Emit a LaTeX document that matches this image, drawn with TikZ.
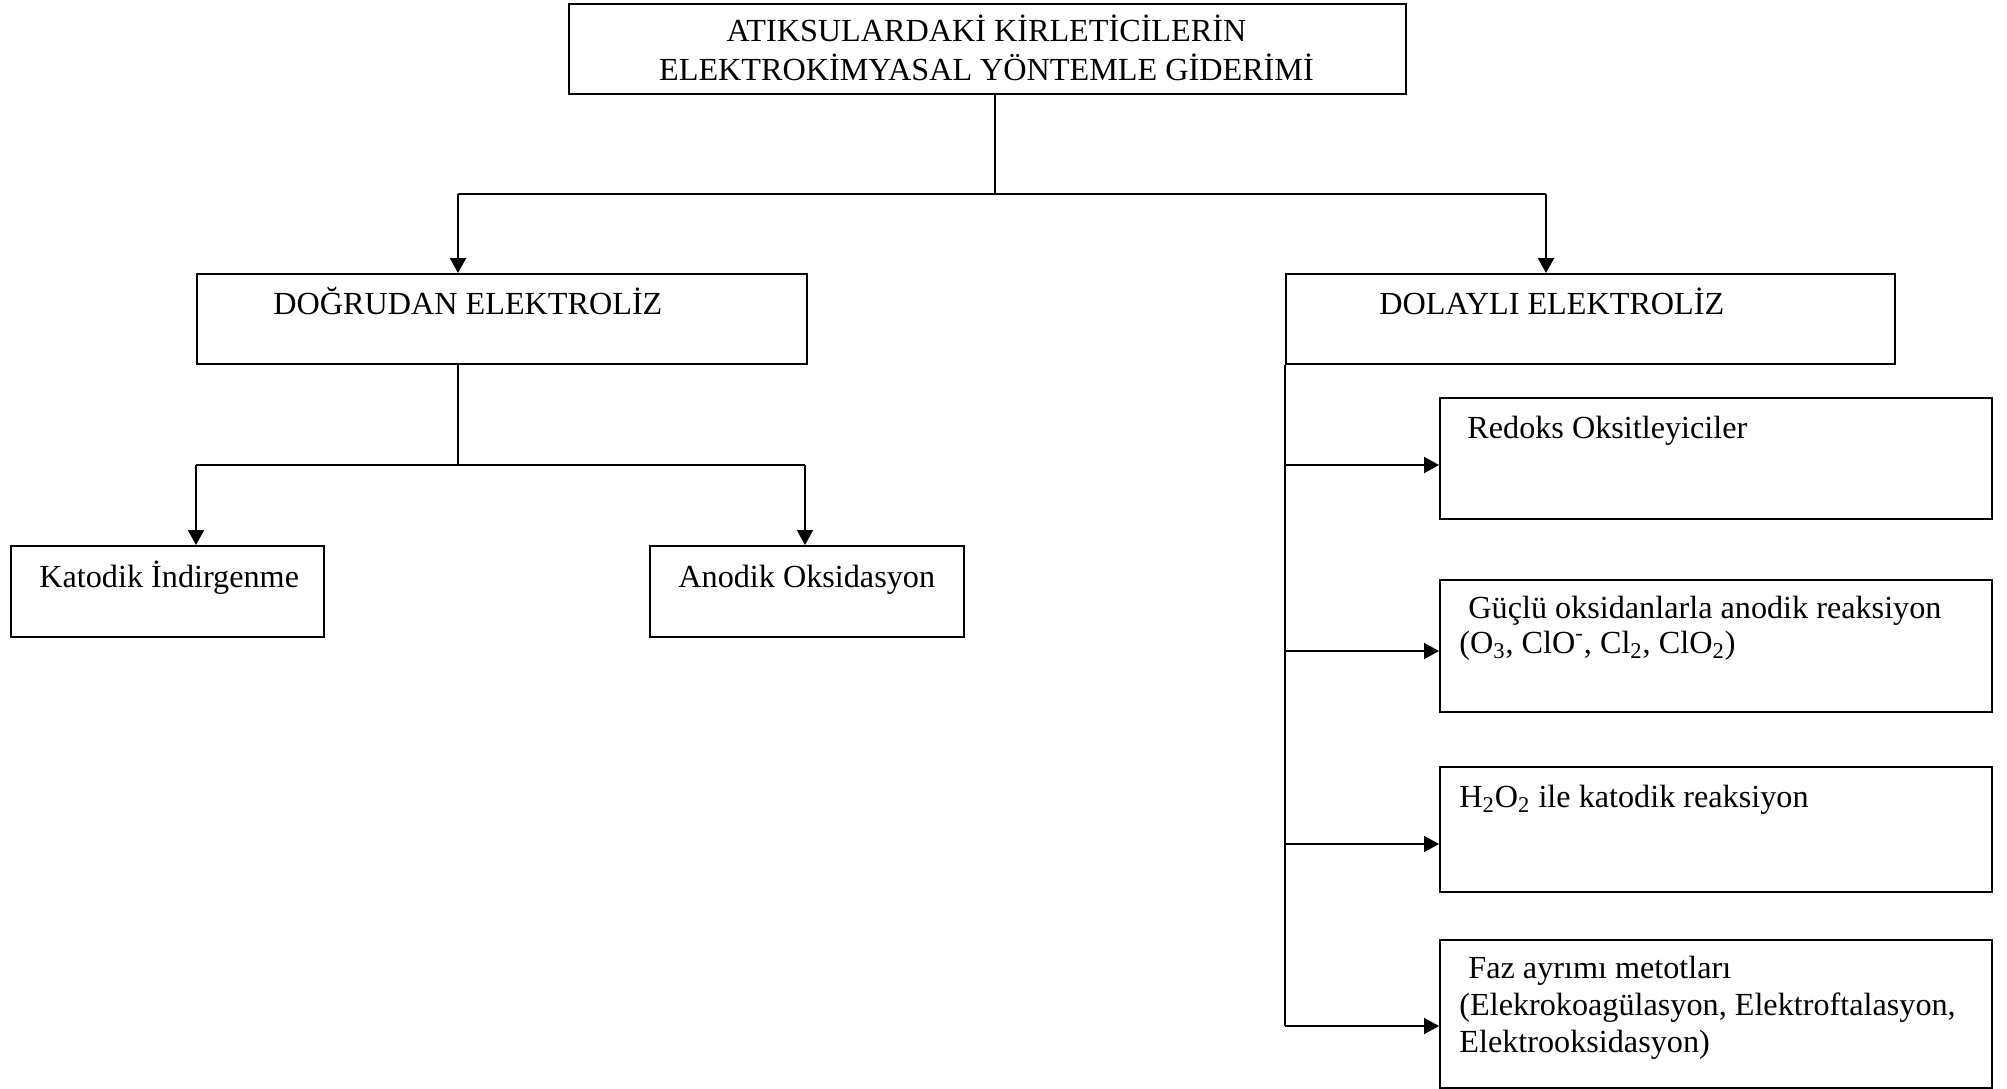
\documentclass[tikz,border=0pt]{standalone}
\usepackage{fontspec}
\setmainfont{Liberation Serif}
\usetikzlibrary{arrows.meta}
\begin{document}
\begin{tikzpicture}[x=0.5pt,y=-0.5pt,
  box/.style={draw,line width=1.1pt,rectangle,anchor=north west,inner sep=0pt},
  txt/.style={anchor=base west,inner sep=0pt,font=\fontsize{16.1pt}{18.5pt}\selectfont},
  ctxt/.style={anchor=base,inner sep=0pt,font=\fontsize{16.1pt}{18.5pt}\selectfont},
  conn/.style={line width=1pt},
  arr/.style={line width=1pt,-{Triangle[length=7.5pt,width=8pt]}}]
\useasboundingbox (0,0) rectangle (2007,1088);
% boxes
\node[box,minimum width=418.5pt,minimum height=45pt] (top) at (568,3) {};
\node[box,minimum width=305pt,minimum height=45pt] (dog) at (196,273) {};
\node[box,minimum width=304.5pt,minimum height=45pt] (dol) at (1285,273) {};
\node[box,minimum width=156.5pt,minimum height=45.5pt] (kat) at (10,545) {};
\node[box,minimum width=157pt,minimum height=45.5pt] (ano) at (649,545) {};
\node[box,minimum width=276pt,minimum height=60.5pt] (red) at (1439,397) {};
\node[box,minimum width=276pt,minimum height=66pt] (guc) at (1439,579) {};
\node[box,minimum width=276pt,minimum height=62.5pt] (hoo) at (1439,766) {};
\node[box,minimum width=276pt,minimum height=74pt] (faz) at (1439,939) {};
% texts
\node[ctxt] (t1) at (986.5,41) {ATIKSULARDAKİ KİRLETİCİLERİN};
\node[ctxt] (t2) at (986.5,80) {ELEKTROKİMYASAL YÖNTEMLE GİDERİMİ};
\node[txt] (tdog) at (273,314) {DOĞRUDAN ELEKTROLİZ};
\node[txt] (tdol) at (1379,314) {DOLAYLI ELEKTROLİZ};
\node[txt] (tkat) at (39,587) {Katodik İndirgenme};
\node[txt] (tano) at (678,587) {Anodik Oksidasyon};
\node[txt] (tred) at (1467,438) {Redoks Oksitleyiciler};
\node[txt] (tguc1) at (1468,618) {Güçlü oksidanlarla anodik reaksiyon};
\node[txt] (tguc2) at (1459,653) {(O\textsubscript{3}, ClO\textsuperscript{-}, Cl\textsubscript{2}, ClO\textsubscript{2})};
\node[txt] (thoo) at (1459,807) {H\textsubscript{2}O\textsubscript{2} ile katodik reaksiyon};
\node[txt] (tfaz1) at (1468,978) {Faz ayrımı metotları};
\node[txt] (tfaz2) at (1459,1015) {(Elekrokoagülasyon, Elektroftalasyon,};
\node[txt] (tfaz3) at (1459,1052) {Elektrooksidasyon)};
% junction coordinates
\coordinate (j1) at (995,194);
\coordinate (jL) at (458,194);
\coordinate (jR) at (1546,194);
\coordinate (j2) at (458,465);
\coordinate (k1) at (196,465);
\coordinate (k2) at (805,465);
\coordinate (v1) at (1285,465);
\coordinate (v2) at (1285,651);
\coordinate (v3) at (1285,844);
\coordinate (v4) at (1285,1026);
% connectors
\draw[line width=0.6pt] (j1 |- top.south) -- (j1);
\draw[conn] (jL) -- (jR);
\draw[arr] (jL) -- (jL |- dog.north);
\draw[arr] (jR) -- (jR |- dol.north);
\draw[conn] (j2 |- dog.south) -- (j2);
\draw[conn] (k1) -- (k2);
\draw[arr] (k1) -- (k1 |- kat.north);
\draw[arr] (k2) -- (k2 |- ano.north);
\draw[conn] (dol.south west) -- (v4);
\draw[arr] (v1) -- (v1 -| red.west);
\draw[arr] (v2) -- (v2 -| guc.west);
\draw[arr] (v3) -- (v3 -| hoo.west);
\draw[arr] (v4) -- (v4 -| faz.west);
\end{tikzpicture}
\end{document}
